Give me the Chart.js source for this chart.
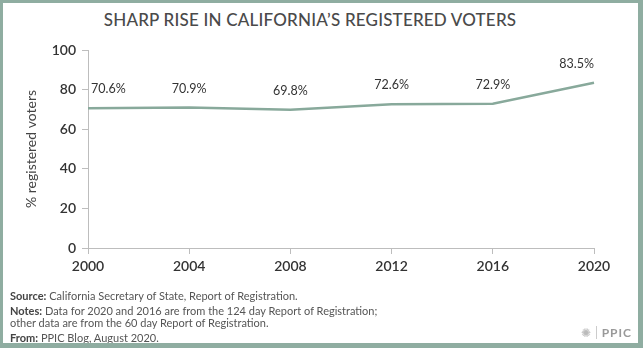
<!DOCTYPE html>
<html>
<head>
<meta charset="utf-8">
<script src="https://cdn.jsdelivr.net/npm/chart.js@4.4.1/dist/chart.umd.min.js"></script>
<style>
  html, body { margin: 0; padding: 0; background: #fff; }
  #frame {
    position: relative; width: 643px; height: 348px; box-sizing: border-box;
    border-style: solid; border-color: #8fada1;
    border-width: 3px 5px 5px 3px; overflow: hidden;
    font-family: Lato, 'Open Sans', sans-serif;
  }
  #title {
    position: absolute; left: 0; top: 6px; width: 614px; text-align: center;
    font-size: 17px; font-weight: 500; color: #4a4a4a; letter-spacing: 0.2px;
  }
  #chart { position: absolute; left: -3px; top: -3px; }
  .note { position: absolute; left: 7px; font-size: 11px; color: #555; white-space: nowrap; }
  .note b { font-weight: 700; color: #444; }
  #logo { position: absolute; right: 6px; bottom: 3px; font-size: 12px; color: #999; font-weight: 700; letter-spacing: 1px; }
  #logo span { color: #bbb; font-weight: 400; margin-right: 4px; }
  #logo i { display: inline-block; width: 1px; height: 13px; background: #ccc; margin-right: 5px; vertical-align: -2px; }
</style>
</head>
<body>
<div id="frame">
  <div id="title">SHARP RISE IN CALIFORNIA’S REGISTERED VOTERS</div>
  <canvas id="chart" width="643" height="348"></canvas>
  <div class="note" style="top:286px"><b>Source:</b> California Secretary of State, Report of Registration.</div>
  <div class="note" style="top:301px"><b>Notes:</b> Data for 2020 and 2016 are from the 124 day Report of Registration;</div>
  <div class="note" style="top:313px">other data are from the 60 day Report of Registration.</div>
  <div class="note" style="top:328px"><b>From:</b> PPIC Blog, August 2020.</div>
  <div id="logo"><span>✺</span><i></i>PPIC</div>
</div>
<script>
// data
const years = ['2000', '2004', '2008', '2012', '2016', '2020'];
const registered = [70.6, 70.9, 69.8, 72.6, 72.9, 83.5];
const yTicks = [0, 20, 40, 60, 80, 100];

const LINE = '#88a99b';
const AXIS = '#bdbdbd';
const TEXT = '#333';

// value labels above each point, kept inside the plot area
const pointLabels = {
  id: 'pointLabels',
  afterDatasetsDraw(chart) {
    const { ctx, chartArea } = chart;
    const meta = chart.getDatasetMeta(0);
    ctx.save();
    ctx.font = '12.5px Lato, sans-serif';
    ctx.fillStyle = TEXT;
    ctx.textBaseline = 'middle';
    ctx.textAlign = 'center';
    meta.data.forEach((pt, i) => {
      const txt = registered[i].toFixed(1) + '%';
      const w = ctx.measureText(txt).width;
      let x = pt.x;
      x = Math.max(x, chartArea.left + w / 2 + 3);
      x = Math.min(x, chartArea.right - w / 2);
      ctx.fillText(txt, x, pt.y - 19);
    });
    ctx.restore();
  }
};

new Chart(document.getElementById('chart'), {
  type: 'line',
  data: {
    labels: years,
    datasets: [{
      data: registered,
      borderColor: LINE,
      borderWidth: 2.5,
      pointRadius: 0,
      tension: 0,
    }],
  },
  options: {
    responsive: false,
    animation: false,
    layout: { padding: { left: 0, top: 50, right: 49, bottom: 0 } },
    plugins: { legend: { display: false }, tooltip: { enabled: false } },
    scales: {
      x: {
        offset: false,
        grid: { drawOnChartArea: false, color: AXIS, tickLength: 6 },
        border: { color: AXIS, width: 1 },
        ticks: { color: TEXT, font: { family: 'Lato', size: 14, weight: '600' }, padding: 4, maxRotation: 0 },
        afterFit(scale) { scale.height = 100; },
      },
      y: {
        min: 0, max: 100,
        afterBuildTicks(scale) { scale.ticks = yTicks.map(v => ({ value: v })); },
        grid: { drawOnChartArea: false, color: AXIS, tickLength: 6 },
        border: { color: AXIS, width: 1 },
        ticks: { color: TEXT, font: { family: 'Lato', size: 14, weight: '600' }, padding: 6 },
        title: {
          display: true, text: '% registered voters', color: '#444',
          font: { family: 'Lato', size: 14 }, padding: { top: 23, bottom: 0 },
        },
        afterFit(scale) { scale.width = 88; },
      },
    },
  },
  plugins: [pointLabels],
});
</script>
</body>
</html>
